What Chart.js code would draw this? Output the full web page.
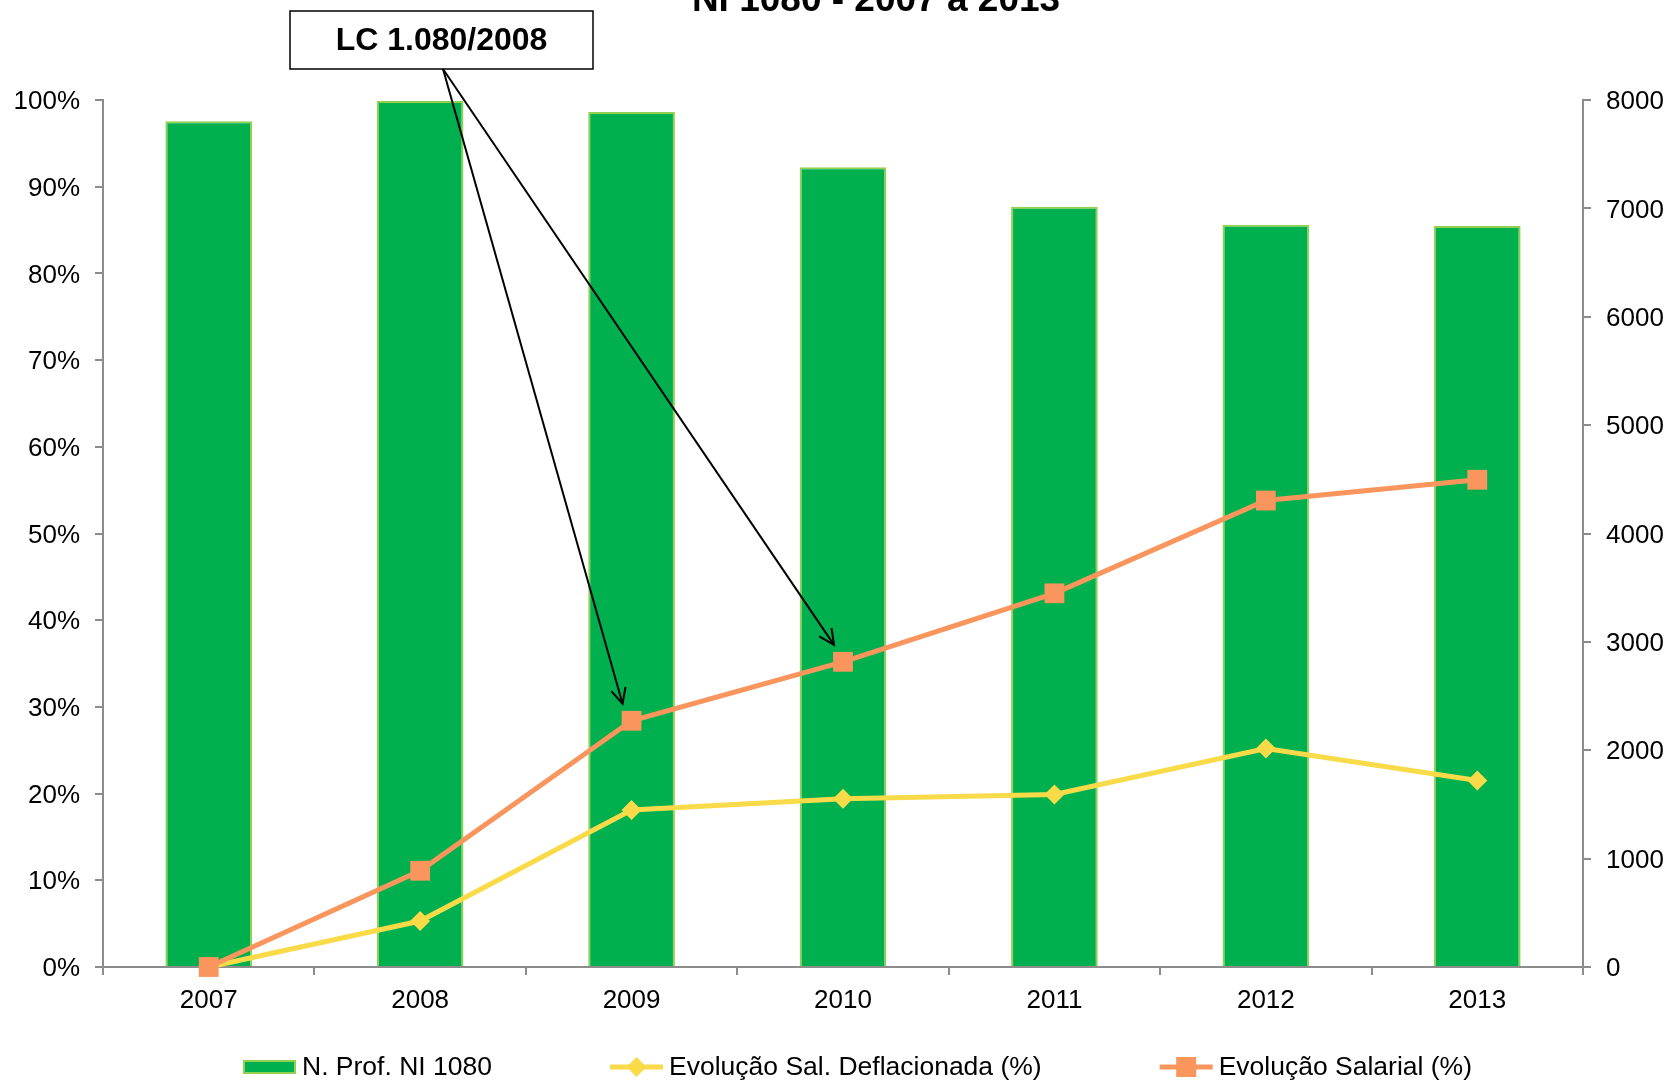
<!DOCTYPE html>
<html>
<head>
<meta charset="utf-8">
<script src="https://cdn.jsdelivr.net/npm/chart.js@4.4.1/dist/chart.umd.min.js"></script>
<style>
  html, body { margin: 0; padding: 0; background: #fff; }
  #wrap { width: 1671px; height: 1081px; position: relative; }
</style>
</head>
<body>
<div id="wrap"><canvas id="c" width="1671" height="1081"></canvas></div>
<script>
const categories = ['2007', '2008', '2009', '2010', '2011', '2012', '2013'];
const nProf = [7805, 7990, 7890, 7380, 7015, 6848, 6838];
const evolDeflacionada = [0, 5.3, 18.1, 19.4, 19.9, 25.2, 21.5];
const evolSalarial = [0, 11.1, 28.4, 35.2, 43.1, 53.8, 56.2];
const leftTicks = [0, 10, 20, 30, 40, 50, 60, 70, 80, 90, 100];
const rightTicks = [0, 1000, 2000, 3000, 4000, 5000, 6000, 7000, 8000];
const titleText = 'NI 1080 - 2007 a 2013';
const annotationText = 'LC 1.080/2008';
const legendLabels = ['N. Prof. NI 1080', 'Evolução Sal. Deflacionada (%)', 'Evolução Salarial (%)'];

const FONT = '"Liberation Sans", Arial, Helvetica, sans-serif';
const GREEN = '#00AF4E';
const GREEN_BORDER = '#92D050';
const YELLOW = '#F9DB49';
const ORANGE = '#F9955D';
const AXIS = '#8C8C8C';

const overlay = {
  id: 'overlay',
  afterDatasetsDraw(chart) {
    const ctx = chart.ctx;
    ctx.save();
    // Annotation box
    const bx = 290, by = 11, bw = 303, bh = 58;
    ctx.fillStyle = '#fff';
    ctx.fillRect(bx, by, bw, bh);
    ctx.strokeStyle = '#000';
    ctx.lineWidth = 1.5;
    ctx.strokeRect(bx, by, bw, bh);
    ctx.fillStyle = '#000';
    ctx.font = 'bold 32px ' + FONT;
    ctx.textAlign = 'center';
    ctx.textBaseline = 'middle';
    ctx.fillText(annotationText, bx + bw / 2, by + bh / 2 + 1);
    // Arrows to the 2009 and 2010 points of the salary series
    const meta = chart.getDatasetMeta(2);
    const sx = 443, sy = by + bh;
    [2, 3].forEach(i => {
      const p = meta.data[i];
      const tx = p.x - 9, ty = p.y - 17;
      ctx.beginPath();
      ctx.moveTo(sx, sy);
      ctx.lineTo(tx, ty);
      ctx.lineWidth = 2;
      ctx.strokeStyle = '#000';
      ctx.stroke();
      const ang = Math.atan2(ty - sy, tx - sx);
      const L = 17, a = 0.45;
      ctx.beginPath();
      ctx.moveTo(tx - L * Math.cos(ang - a), ty - L * Math.sin(ang - a));
      ctx.lineTo(tx, ty);
      ctx.lineTo(tx - L * Math.cos(ang + a), ty - L * Math.sin(ang + a));
      ctx.stroke();
    });
    ctx.restore();
  },
  afterDraw(chart) {
    const ctx = chart.ctx;
    ctx.save();
    // Title (partly above the canvas, as in the reference)
    ctx.fillStyle = '#000';
    ctx.font = 'bold 37px ' + FONT;
    ctx.textAlign = 'center';
    ctx.textBaseline = 'alphabetic';
    ctx.fillText(titleText, 876, 11);
    // Legend
    ctx.font = '26.5px ' + FONT;
    ctx.textAlign = 'left';
    ctx.textBaseline = 'middle';
    const ly = 1067;
    let x = 243;
    const mw = 53, gapText = 6, gapItem = 118;
    legendLabels.forEach((label, i) => {
      if (i === 0) {
        ctx.fillStyle = GREEN;
        ctx.fillRect(x, ly - 7, mw, 14);
        ctx.strokeStyle = GREEN_BORDER;
        ctx.lineWidth = 2;
        ctx.strokeRect(x + 1, ly - 6, mw - 2, 12);
      } else {
        const col = i === 1 ? YELLOW : ORANGE;
        ctx.strokeStyle = col;
        ctx.lineWidth = 5;
        ctx.beginPath();
        ctx.moveTo(x, ly);
        ctx.lineTo(x + mw, ly);
        ctx.stroke();
        ctx.fillStyle = col;
        const cx = x + mw / 2;
        if (i === 1) {
          ctx.beginPath();
          ctx.moveTo(cx, ly - 10);
          ctx.lineTo(cx + 10, ly);
          ctx.lineTo(cx, ly + 10);
          ctx.lineTo(cx - 10, ly);
          ctx.closePath();
          ctx.fill();
        } else {
          ctx.fillRect(cx - 10, ly - 10, 20, 20);
        }
      }
      x += mw + gapText;
      ctx.fillStyle = '#000';
      ctx.fillText(label, x, ly + 1);
      x += ctx.measureText(label).width + gapItem;
    });
    ctx.restore();
  }
};

const tickFont = { family: FONT, size: 26 };

new Chart(document.getElementById('c'), {
  type: 'bar',
  data: {
    labels: categories,
    datasets: [
      {
        type: 'bar',
        label: legendLabels[0],
        data: nProf,
        yAxisID: 'y1',
        backgroundColor: GREEN,
        borderColor: GREEN_BORDER,
        borderWidth: 2,
        categoryPercentage: 1,
        barPercentage: 0.41,
        order: 3
      },
      {
        type: 'line',
        label: legendLabels[1],
        data: evolDeflacionada,
        yAxisID: 'y',
        borderColor: YELLOW,
        backgroundColor: YELLOW,
        borderWidth: 5,
        pointStyle: 'rectRot',
        pointRadius: 10,
        pointBorderWidth: 0,
        pointBackgroundColor: YELLOW,
        tension: 0,
        clip: false,
        order: 2
      },
      {
        type: 'line',
        label: legendLabels[2],
        data: evolSalarial,
        yAxisID: 'y',
        borderColor: ORANGE,
        backgroundColor: ORANGE,
        borderWidth: 5,
        pointStyle: 'rect',
        pointRadius: 14,
        pointBorderWidth: 0,
        pointBackgroundColor: ORANGE,
        tension: 0,
        clip: false,
        order: 1
      }
    ]
  },
  options: {
    responsive: false,
    animation: false,
    devicePixelRatio: 1,
    layout: { padding: { top: 100, bottom: 64, left: 0, right: 0 } },
    plugins: {
      legend: { display: false },
      title: { display: false },
      tooltip: { enabled: false }
    },
    scales: {
      x: {
        offset: true,
        grid: { display: true, offset: true, drawOnChartArea: false, drawTicks: true, tickLength: 8, color: AXIS, lineWidth: 2 },
        border: { display: true, color: AXIS, width: 2 },
        ticks: { font: tickFont, color: '#000', padding: 10, maxRotation: 0 },
        afterFit(s) { s.height = 50; }
      },
      y: {
        position: 'left',
        min: 0,
        max: 100,
        afterBuildTicks(s) { s.ticks = leftTicks.map(v => ({ value: v })); },
        grid: { display: true, drawOnChartArea: false, drawTicks: true, tickLength: 8, color: AXIS, lineWidth: 2 },
        border: { display: true, color: AXIS, width: 2 },
        ticks: { font: tickFont, color: '#000', padding: 15, labelOffset: 2, callback: v => v + '%' },
        afterFit(s) { s.width = 103; }
      },
      y1: {
        position: 'right',
        min: 0,
        max: 8000,
        afterBuildTicks(s) { s.ticks = rightTicks.map(v => ({ value: v })); },
        grid: { display: true, drawOnChartArea: false, drawTicks: true, tickLength: 8, color: AXIS, lineWidth: 2 },
        border: { display: true, color: AXIS, width: 2 },
        ticks: { font: tickFont, color: '#000', padding: 15, labelOffset: 2, callback: v => String(v) },
        afterFit(s) { s.width = 88; }
      }
    }
  },
  plugins: [overlay]
});
</script>
</body>
</html>
